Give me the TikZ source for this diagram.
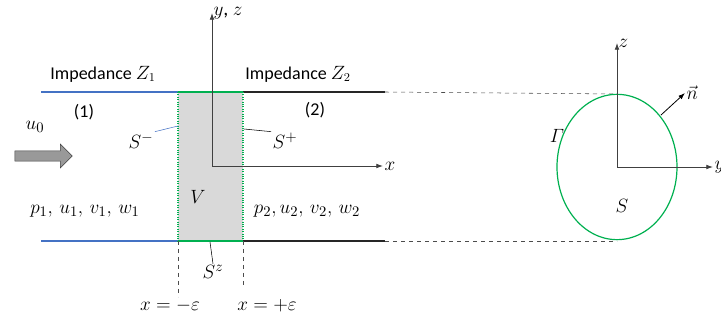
\documentclass[tikz,border=0pt]{standalone}
\usepackage{amsmath}
\usepackage{fontspec}
\setmainfont{Carlito}
\usepackage{tikz}
\usetikzlibrary{arrows.meta,positioning,shapes.arrows,shapes.geometric}
\definecolor{pipeblue}{RGB}{68,114,196}
\definecolor{bordgreen}{RGB}{0,176,80}
\definecolor{axisgray}{RGB}{64,64,64}

\begin{document}
\begin{tikzpicture}[x=0.75pt, y=-0.75pt,
font=\fontsize{13.5}{15}\selectfont,
lbl/.style={inner sep=1pt},
mlbl/.style={inner sep=1pt, font=\fontsize{15}{17}\selectfont},
wall1/.style={pipeblue, line width=1.2pt},
wall2/.style={black!85, line width=1.8pt},
guide/.style={dashed, black!70, thin},
axis/.style={-{Latex[length=5pt,width=3.5pt]}, axisgray, line width=0.6pt},
leader/.style={thin}
]
\useasboundingbox (0,0) rectangle (721,323);
% duct walls
\coordinate (w1top) at (41,92);
\coordinate (w1bot) at (41,241);
\coordinate (vtl) at (178,92);
\coordinate (vbl) at (178,241);
\coordinate (vtr) at (243,92);
\coordinate (vbr) at (243,241);
\coordinate (w2top) at (385,92);
\coordinate (w2bot) at (385,241);
\coordinate (ctop) at (617,94);
\coordinate (cbot) at (617,241);
\fill[black!15] (vtl) rectangle (vbr);
\draw[wall1] (w1top) -- (vtr);
\draw[wall1] (w1bot) -- (vbr);
\draw[wall2] (vtr) -- (w2top);
\draw[wall2] (vbr) -- (w2bot);
\draw[bordgreen, line width=0.8pt] (vtl) -- (vtr);
\draw[bordgreen, line width=0.8pt] (vbl) -- (vbr);
\draw[bordgreen, densely dotted, line width=0.8pt] (vtl) -- (vbl);
\draw[bordgreen, densely dotted, line width=0.8pt] (vtr) -- (vbr);
\draw[guide] (w2top) -- (ctop);
\draw[guide] (w2bot) -- (cbot);
% epsilon marks
\node[mlbl] (epsm) at (170,306) {$x=-\varepsilon$};
\node[mlbl] (epsp) at (267,306) {$x=+\varepsilon$};
\coordinate (epsmtop) at (178,297);
\coordinate (epsptop) at (243,288);
\draw[guide] (vbl) -- (epsmtop);
\draw[guide] (vbr) -- (epsptop);
% axes of the duct
\coordinate (orig) at (212,166);
\coordinate (yzend) at (212,13);
\coordinate (xend) at (383,166);
\draw[axis] (orig) -- (yzend);
\draw[axis] (orig) -- (xend);
\node[mlbl, right=0pt of yzend] (yzlab) {$y$, $z$};
\node[mlbl, right=0pt of xend] (xlab) {$x$};
% labels
\node[lbl] (imp1) at (103,74) {Impedance $Z_1$};
\node[lbl] (imp2) at (298,74) {Impedance $Z_2$};
\node[lbl] (reg1) at (84,112) {(1)};
\node[lbl] (reg2) at (315,110) {(2)};
\node[mlbl] (vol) at (198,197) {$V$};
\node[mlbl] (state1) at (85,211) {$p_1,\, u_1,\, v_1,\, w_1$};
\node[mlbl] (state2) at (307,211) {$p_2, u_2,\, v_2,\, w_2$};
\node[mlbl] (sminus) at (141,141) {$S^-$};
\node[mlbl] (splus) at (285,141) {$S^+$};
\node[mlbl] (sz) at (213,272) {$S^z$};
\coordinate (sminusat) at (178,126);
\coordinate (splusat) at (244,129);
\coordinate (szat) at (210,242);
\draw[leader, pipeblue] (sminus.north east) -- (sminusat);
\draw[leader] (splus.north west) -- (splusat);
\draw[leader] (sz.north) -- (szat);
% incoming flow
\node[mlbl] (u0) at (35,127) {$u_0$};
\node[single arrow, draw=axisgray, fill=black!40, minimum height=43pt,
  minimum width=18pt, single arrow head extend=3.5pt, inner sep=2.5pt] (flow) at (41,156) {};
% cross section
\node[draw=bordgreen, line width=0.9pt, ellipse, minimum width=90pt, minimum height=109pt] (sect) at (617,167) {};
\coordinate (sorig) at (617,167);
\coordinate (zend) at (617,43);
\coordinate (yend) at (713,167);
\draw[axis] (sorig) -- (zend);
\draw[axis] (sorig) -- (yend);
\node[mlbl, right=0pt of zend] (zlab) {$z$};
\node[mlbl, right=0pt of yend] (ylab) {$y$};
\node[mlbl] (gam) at (557,136) {$\varGamma$};
\node[mlbl] (surf) at (622,206) {$S$};
\coordinate (nfoot) at (661,115);
\coordinate (ntip) at (685,93);
\draw[-{Latex[length=5pt,width=3.5pt]}, line width=0.6pt] (nfoot) -- (ntip);
\node[mlbl, right=0pt of ntip] (nlab) {$\vec{n}$};
\end{tikzpicture}
\end{document}
